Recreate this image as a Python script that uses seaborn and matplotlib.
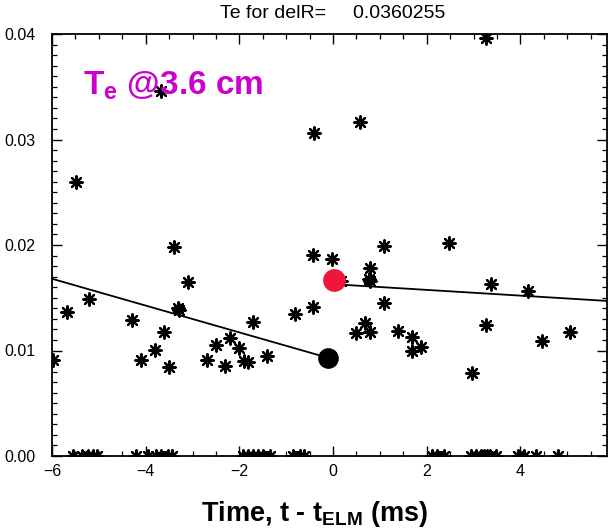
import matplotlib
matplotlib.use("Agg")
import matplotlib.pyplot as plt
import numpy as np
import pandas as pd
import seaborn as sns
from matplotlib.ticker import MultipleLocator, FormatStrFormatter

# ---------------- data ----------------
t_ms = [-5.98, -5.69, -5.49, -5.20, -4.29, -4.09, -3.81, -3.68, -3.61, -3.50,
        -3.40, -3.32, -3.28, -3.10, -2.70, -2.50, -2.30, -2.21, -2.01, -1.89,
        -1.81, -1.70, -1.42, -0.82, -0.43, -0.43, -0.41, -0.02, 0.18, 0.49,
        0.58, 0.68, 0.78, 0.78, 0.77, 0.79, 1.08, 1.08, 1.38, 1.68,
        1.68, 1.88, 2.47, 2.97, 3.26, 3.27, 3.37, 4.16, 4.47, 5.07]
te_kev = [0.0091, 0.01362, 0.0260, 0.01488, 0.01289, 0.0091, 0.01005, 0.0346, 0.01175, 0.00847,
          0.01984, 0.0140, 0.0138, 0.01652, 0.0091, 0.01055, 0.00856, 0.01115, 0.0102, 0.00897,
          0.0089, 0.01267, 0.00948, 0.01343, 0.0141, 0.01905, 0.03066, 0.01864, 0.0166, 0.01163,
          0.0317, 0.01258, 0.01172, 0.01785, 0.0168, 0.01655, 0.01993, 0.01453, 0.01185, 0.01125,
          0.00995, 0.0103, 0.02016, 0.0079, 0.0396, 0.01242, 0.0163, 0.01564, 0.01093, 0.01178]
t_zero = [-5.56, -5.35, -5.24, -5.13, -5.03, -4.21, -3.94, -3.79, -3.68, -3.53,
          -3.43, -1.92, -1.82, -1.71, -1.60, -1.50, -1.35, -0.86, -0.71, -0.61,
          2.11, 2.22, 2.37, 2.94, 3.05, 3.15, 3.22, 3.28, 3.36, 3.47,
          3.96, 4.07, 4.34, 4.81]
te_zero = [0.0] * len(t_zero)

pre_fit_t = [-6.0, -0.10]
pre_fit_te = [0.01680, 0.00930]
post_fit_t = [0.03, 5.85]
post_fit_te = [0.01628, 0.01470]
pre_elm_t = [-0.10]
pre_elm_te = [0.00930]
post_elm_t = [0.03]
post_elm_te = [0.01668]

x_ticks = [-6, -4, -2, 0, 2, 4]
y_ticks = [0.00, 0.01, 0.02, 0.03, 0.04]
title_text = "Te for delR=     0.0360255"
label_text = r"T$_\mathbf{e}$ @3.6 cm"
xlabel_text = r"Time, t - t$_\mathbf{ELM}$ (ms)"

# ---------------- style ----------------
sns.set_style("ticks")
plt.rcParams["font.family"] = ["Liberation Sans", "DejaVu Sans"]
plt.rcParams["mathtext.fontset"] = "custom"
plt.rcParams["mathtext.rm"] = "Liberation Sans"
plt.rcParams["mathtext.bf"] = "Liberation Sans:bold"
plt.rcParams["text.color"] = "black"
plt.rcParams["axes.labelcolor"] = "black"
plt.rcParams["xtick.color"] = "black"
plt.rcParams["ytick.color"] = "black"

fig = plt.figure(figsize=(6.1, 5.32), dpi=100)
ax = fig.add_axes([52 / 610, 1 - 456 / 532, (607 - 52) / 610, (456 - 34) / 532])

df = pd.DataFrame({"t": t_ms + t_zero, "te": te_kev + te_zero})
sns.scatterplot(data=df, x="t", y="te", marker=(8, 2, 0), s=80, color="black",
                linewidth=1.6, ax=ax, legend=False, zorder=3)

sns.lineplot(x=pre_fit_t, y=pre_fit_te, color="black", linewidth=1.3, ax=ax, zorder=4)
sns.lineplot(x=post_fit_t, y=post_fit_te, color="black", linewidth=1.3, ax=ax, zorder=4)

sns.scatterplot(x=pre_elm_t, y=pre_elm_te, s=190, color="black", edgecolor="black",
                ax=ax, legend=False, zorder=5)
sns.scatterplot(x=post_elm_t, y=post_elm_te, s=230, color="#f0163a", edgecolor="#f0163a",
                ax=ax, legend=False, zorder=5)

ax.set_xlim(-6, 5.85)
ax.set_ylim(0, 0.04)
ax.set_xticks(x_ticks)
ax.set_yticks(y_ticks)
ax.xaxis.set_minor_locator(MultipleLocator(0.5))
ax.yaxis.set_minor_locator(MultipleLocator(0.001))
ax.yaxis.set_major_formatter(FormatStrFormatter("%.2f"))
ax.tick_params(which="both", direction="in", top=True, right=True, labelsize=11.5,
               colors="black")
ax.tick_params(which="major", length=7, width=1.0)
ax.tick_params(which="minor", length=3.5, width=0.9)
ax.tick_params(axis="y", which="major", pad=12)
ax.tick_params(axis="x", which="major", pad=6)
for s in ax.spines.values():
    s.set_linewidth(1.3)
    s.set_color("black")
ax.set_xlabel("")
ax.set_ylabel("")

fig.text(333 / 610, 1 - 13 / 532, title_text, ha="center", va="center", fontsize=14)
fig.text(83 / 610, 1 - 94 / 532, label_text, ha="left", va="baseline",
         fontsize=24, fontweight="bold", color="#cc00cc")
fig.text(315 / 610, 1 - 521 / 532, xlabel_text, ha="center", va="baseline",
         fontsize=19.5, fontweight="bold", color="black")

fig.savefig("out.png", dpi=100)
